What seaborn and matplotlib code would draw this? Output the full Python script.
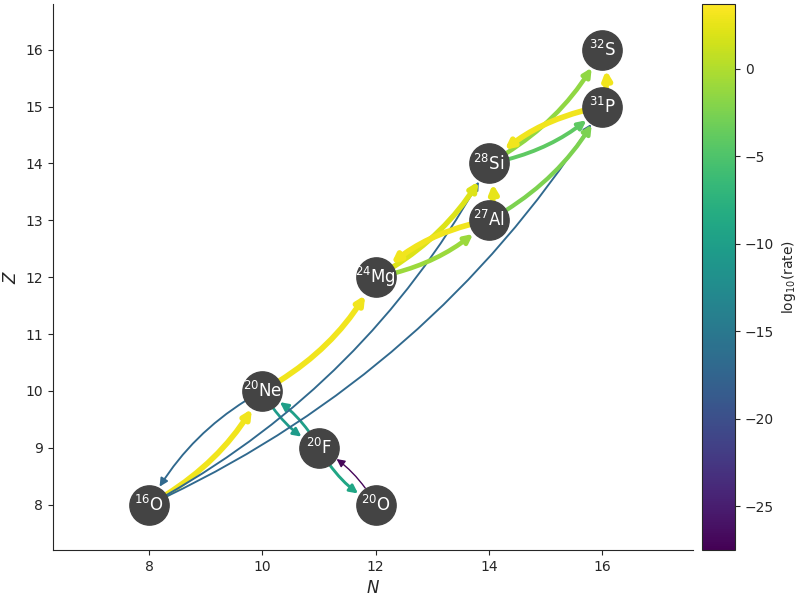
import matplotlib
matplotlib.use("Agg")
import matplotlib.pyplot as plt
import seaborn as sns
import numpy as np
from matplotlib.colors import Normalize

sns.set_style("white")
plt.rcParams['font.family'] = ['DejaVu Sans']

nuc_names = ["O16", "Ne20", "F20", "O20", "Mg24", "Al27", "Si28", "P31", "S32"]
nuc_labels = ["$^{16}$O", "$^{20}$Ne", "$^{20}$F", "$^{20}$O", "$^{24}$Mg", "$^{27}$Al", "$^{28}$Si", "$^{31}$P", "$^{32}$S"]
nuc_N = [8, 10, 11, 12, 12, 14, 14, 16, 16]
nuc_Z = [8, 10, 9, 8, 12, 13, 14, 15, 16]

link_src = ["O16", "Ne20", "Ne20", "Ne20", "F20", "F20", "O20", "O16", "O16",
            "Mg24", "Mg24", "Al27", "Al27", "Al27", "Si28", "Si28", "P31", "P31"]
link_dst = ["Ne20", "O16", "Mg24", "F20", "Ne20", "O20", "F20", "Si28", "P31",
            "Al27", "Si28", "Mg24", "Si28", "P31", "P31", "S32", "Si28", "S32"]
link_rate = [3.0, -17.0, 3.0, -10.5, -10.0, -9.0, -27.0, -17.0, -17.0,
             -1.0, 2.0, 3.0, 2.5, -2.5, -4.0, -1.5, 3.0, 3.0]

vmin, vmax = -27.5, 3.7
norm = Normalize(vmin, vmax)
cmap = plt.get_cmap("viridis")

fig = plt.figure(figsize=(8, 6), dpi=100)
ax = fig.add_axes([0.066, 0.083, 0.8, 0.91])
cax = fig.add_axes([0.877, 0.083, 0.042, 0.91])
pos = {n: (x, y) for n, x, y in zip(nuc_names, nuc_N, nuc_Z)}

for s, d, r in zip(link_src, link_dst, link_rate):
    f = (r - vmin) / (vmax - vmin)
    lw = 1 + 3.2 * f ** 2
    ax.annotate("", xy=pos[d], xytext=pos[s],
                arrowprops=dict(arrowstyle="-|>", color=cmap(norm(r)), lw=lw,
                                mutation_scale=12, shrinkA=14, shrinkB=15,
                                connectionstyle="arc3,rad=0.15"), zorder=1)

ax.scatter(nuc_N, nuc_Z, s=800, color="#444444", zorder=3)
for lab, x, y in zip(nuc_labels, nuc_N, nuc_Z):
    ax.text(x, y, lab, color="white", ha="center", va="center", fontsize=12, zorder=4)

ax.set_xlim(6.3, 17.6)
ax.set_ylim(7.2, 16.8)
ax.set_yticks(range(8, 17))
ax.set_xlabel("$N$", fontsize=12)
ax.set_ylabel("$Z$", fontsize=12)
ax.spines["top"].set_visible(False)
ax.spines["right"].set_visible(False)
ax.tick_params(left=True, bottom=True)

sm = plt.cm.ScalarMappable(norm=norm, cmap=cmap)
cb = fig.colorbar(sm, cax=cax)
cb.set_label("log$_{10}$(rate)")
fig.savefig("out.png")
